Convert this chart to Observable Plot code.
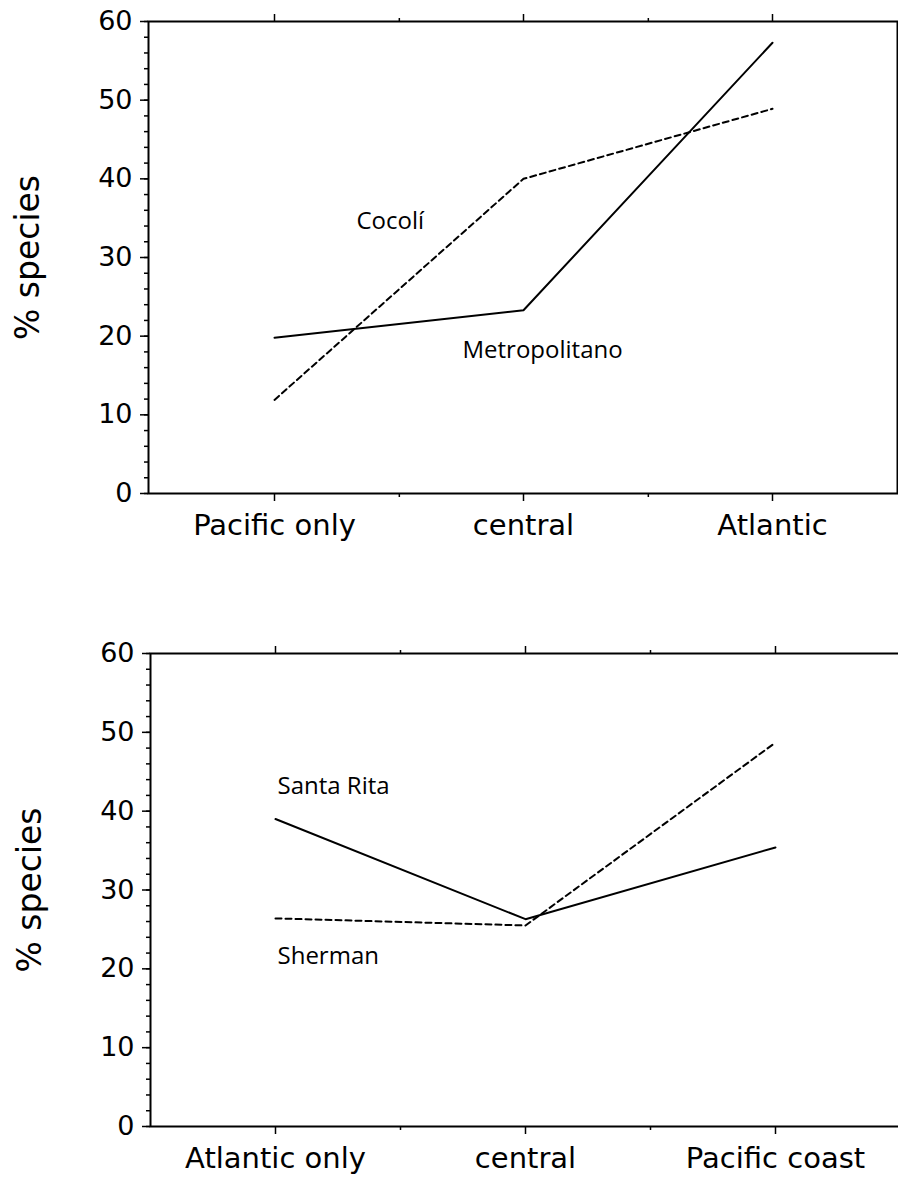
<!DOCTYPE html>
<html><head><meta charset="utf-8">
<script src="https://cdn.jsdelivr.net/npm/d3@7"></script>
<script src="https://cdn.jsdelivr.net/npm/@observablehq/plot@0.6"></script>
<style>
html,body{margin:0;padding:0;background:#fff;overflow:hidden;}
#chart svg{display:block;}
</style></head><body><div id="chart"></div>
<script>
// ---- data ----
const topCategories = ["Pacific only", "central", "Atlantic"];
const metropolitano = [19.8, 23.3, 57.3];   // solid
const cocoli = [11.9, 40.0, 48.9];          // dashed

const bottomCategories = ["Atlantic only", "central", "Pacific coast"];
const santaRita = [39.0, 26.3, 35.4];       // solid
const sherman = [26.4, 25.5, 48.7];         // dashed

const yTicks = [0, 10, 20, 30, 40, 50, 60];
const yMinorTicks = d3.range(0, 61, 2);
const yLabel = "% species";

// series labels: name, category it sits near, value at its height
const topLabelNames = ["Cocolí", "Metropolitano"];
const topLabelCats = ["Pacific only", "central"];
const topLabelValues = [34.6, 18.2];
const bottomLabelNames = ["Santa Rita", "Sherman"];
const bottomLabelCats = ["Atlantic only", "Atlantic only"];
const bottomLabelValues = [43.1, 21.6];

function panel({categories, solid, dashed, labelNames, labelCats, labelValues, labelDx,
                height, marginTop, marginBottom, marginLeft, marginRight}) {
  const width = 898;
  const step = (width - marginLeft - marginRight) / categories.length;
  const toRows = vals => categories.map((c, i) => ({cat: c, value: vals[i]}));
  const labelMarks = labelNames.map((n, i) =>
    Plot.text([{cat: labelCats[i], value: labelValues[i], name: n}], {
      x: "cat", y: "value", text: "name", textAnchor: "start", dx: labelDx[i],
      fontSize: 24, fontFamily: "Open Sans", fill: "black"
    }));
  return Plot.plot({
    width, height, marginTop, marginBottom, marginLeft, marginRight,
    x: {type: "point", domain: categories, padding: 0.5},
    y: {domain: [0, 60]},
    style: {fontFamily: "DejaVu Sans", background: "white", color: "black"},
    marks: [
      Plot.axisY(yMinorTicks, {tickSize: 4, text: null, label: null, strokeWidth: 1.5}),
      Plot.axisY(yTicks, {tickSize: 8, tickPadding: 8, fontSize: 27, label: null, strokeWidth: 1.5}),
      Plot.axisX(categories, {anchor: "top", tickSize: 8, text: null, label: null, strokeWidth: 1.5}),
      Plot.axisX(categories.slice(0, -1), {anchor: "top", tickSize: 4, text: null, label: null, strokeWidth: 1.5, dx: step / 2}),
      Plot.axisX(categories, {anchor: "bottom", tickSize: 8, tickPadding: 13, fontSize: 29, label: null, strokeWidth: 1.5}),
      Plot.axisX(categories.slice(0, -1), {anchor: "bottom", tickSize: 4, text: null, label: null, strokeWidth: 1.5, dx: step / 2}),
      Plot.frame({stroke: "black", strokeWidth: 2}),
      Plot.text([yLabel], {text: d => d, frameAnchor: "left", textAnchor: "middle", rotate: -90, dx: -120, fontSize: 33, fill: "black"}),
      Plot.line(toRows(dashed), {x: "cat", y: "value", stroke: "black", strokeWidth: 2, strokeDasharray: "6,4"}),
      Plot.line(toRows(solid), {x: "cat", y: "value", stroke: "black", strokeWidth: 2}),
      ...labelMarks
    ]
  });
}

const chart = document.getElementById("chart");
chart.append(panel({
  categories: topCategories, solid: metropolitano, dashed: cocoli,
  labelNames: topLabelNames, labelCats: topLabelCats, labelValues: topLabelValues, labelDx: [82, -61],
  height: 610, marginTop: 21, marginBottom: 117, marginLeft: 148, marginRight: 1
}));
chart.append(panel({
  categories: bottomCategories, solid: santaRita, dashed: sherman,
  labelNames: bottomLabelNames, labelCats: bottomLabelCats, labelValues: bottomLabelValues, labelDx: [2, 2],
  height: 567, marginTop: 43, marginBottom: 51, marginLeft: 150, marginRight: -2
}));
</script>
</body></html>
